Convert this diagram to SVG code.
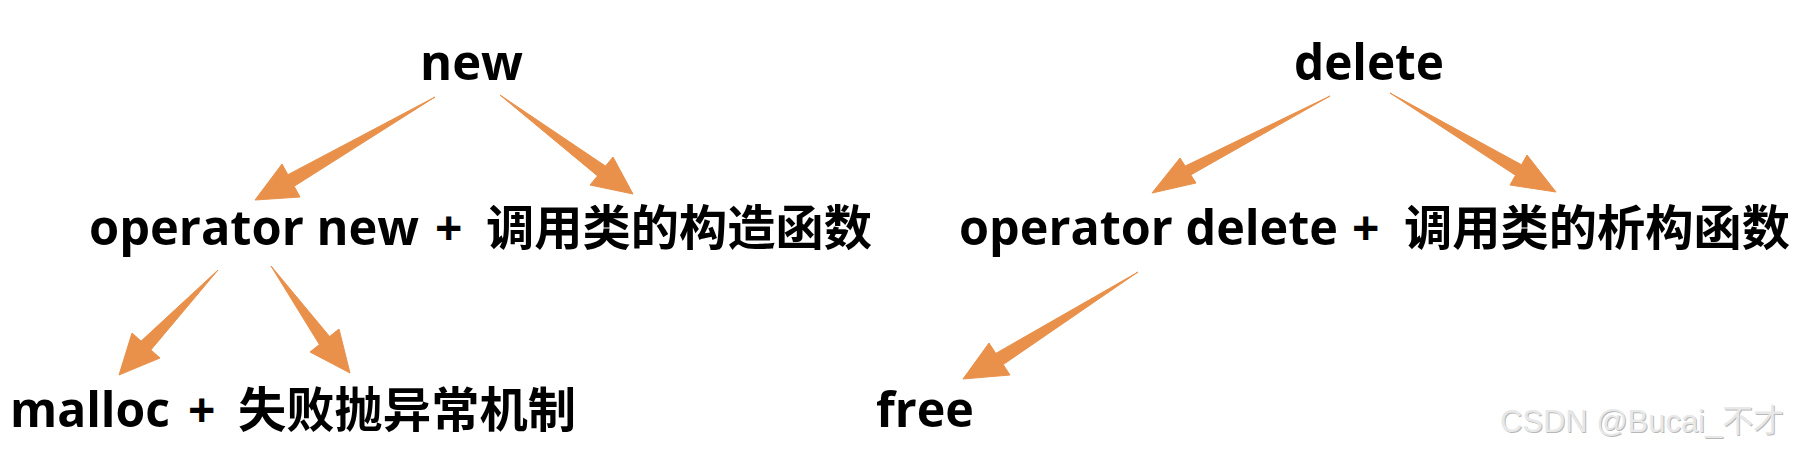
<svg xmlns="http://www.w3.org/2000/svg" width="1806" height="451" viewBox="0 0 1806 451">
<style>
.lat{font-family:"Open Sans","Noto Sans",sans-serif;font-weight:700;fill:#000}
.cjk{font-family:"Noto Sans CJK SC","Noto Sans CJK JP",sans-serif;font-weight:700;fill:#000}
.arr{fill:#E9914B;stroke:#E9914B;stroke-width:1;stroke-linejoin:round}
.wm{font-family:"Liberation Sans","Noto Sans CJK SC",sans-serif;font-size:32px}
</style>
<rect width="1806" height="451" fill="#ffffff"/>
<g id="connectors">
<polygon class="arr" points="435,97 287.9,174.7 282,164 255,200 300,197 294.2,186.3"/>
<polygon class="arr" points="500,95 605.5,166.1 613,157 633,194 590,185 597.5,175.9"/>
<polygon class="arr" points="218,270 141.1,341.1 132,333 119,375 160,358 150.9,349.9"/>
<polygon class="arr" points="271,266 329.6,336.5 339,329 350,373 310,352 319.4,344.5"/>
<polygon class="arr" points="1330,96 1185.2,166.1 1180,158 1152,193 1196,183 1190.8,174.9"/>
<polygon class="arr" points="1390,93 1521.5,164.75 1527,155 1556,192 1510,185 1515.5,175.25"/>
<polygon class="arr" points="1138,272 995.8,353.4 989,343 963,379 1010,375 1003.2,364.6"/>
</g>
<g id="node-new">
<text class="lat" x="420" y="80" font-size="50" textLength="103" lengthAdjust="spacingAndGlyphs">new</text>
</g>
<g id="node-delete">
<text class="lat" x="1294" y="80" font-size="50" textLength="150" lengthAdjust="spacingAndGlyphs">delete</text>
</g>
<g id="node-operator-new">
<text class="lat" x="89" y="245" font-size="48" textLength="330" lengthAdjust="spacingAndGlyphs">operator new</text>
<text class="lat" x="435" y="245" font-size="48">+</text>
<text class="cjk" x="486" y="245" font-size="48" textLength="386" lengthAdjust="spacingAndGlyphs">调用类的构造函数</text>
</g>
<g id="node-operator-delete">
<text class="lat" x="959" y="245" font-size="48" textLength="379" lengthAdjust="spacingAndGlyphs">operator delete</text>
<text class="lat" x="1352" y="245" font-size="48">+</text>
<text class="cjk" x="1404" y="245" font-size="48" textLength="386" lengthAdjust="spacingAndGlyphs">调用类的析构函数</text>
</g>
<g id="node-malloc">
<text class="lat" x="10" y="427" font-size="48" textLength="160" lengthAdjust="spacingAndGlyphs">malloc</text>
<text class="lat" x="188" y="427" font-size="48">+</text>
<text class="cjk" x="238" y="427" font-size="48" textLength="338" lengthAdjust="spacingAndGlyphs">失败抛异常机制</text>
</g>
<g id="node-free">
<text class="lat" x="876" y="427" font-size="48" textLength="98" lengthAdjust="spacingAndGlyphs">free</text>
</g>
<g id="watermark">
<text class="wm" x="1501" y="433" fill="#b8b8b8" textLength="284" lengthAdjust="spacingAndGlyphs">CSDN @Bucai_不才</text>
<text class="wm" x="1500" y="432" fill="#e8e8e8" textLength="284" lengthAdjust="spacingAndGlyphs">CSDN @Bucai_不才</text>
</g>
</svg>
